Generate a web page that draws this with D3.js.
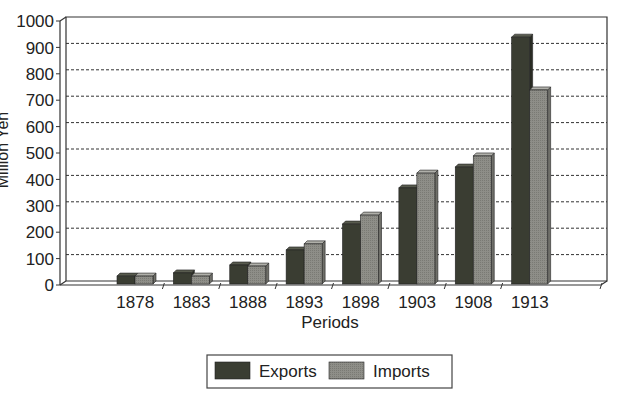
<!DOCTYPE html>
<html>
<head>
<meta charset="utf-8">
<script src="https://cdn.jsdelivr.net/npm/d3@7"></script>
<style>
  body { margin: 0; background: #fff; }
  svg text { font-family: "Liberation Sans", Arial, sans-serif; fill: #222; }
</style>
</head>
<body>
<div id="chart"></div>
<script>
// Data (million yen)
const periods = ["1878", "1883", "1888", "1893", "1898", "1903", "1908", "1913"];
const exportsVals = [30, 42, 72, 129, 227, 364, 443, 935];
const importsVals = [30, 30, 68, 152, 261, 420, 485, 735];
const seriesNames = ["Exports", "Imports"];
const yTicks = [0, 100, 200, 300, 400, 500, 600, 700, 800, 900, 1000];

const W = 640, H = 397;
const depthX = 6, depthY = 4;   // offset of the back wall
const barDepth = 3;

const svg = d3.select("#chart").append("svg")
    .attr("width", W)
    .attr("height", H);

// texture for the imports bars
const defs = svg.append("defs");
const pat = defs.append("pattern")
    .attr("id", "dots")
    .attr("width", 2).attr("height", 2)
    .attr("patternUnits", "userSpaceOnUse");
pat.append("rect").attr("width", 2).attr("height", 2).attr("fill", "#8e8e88");
pat.append("rect").attr("width", 1).attr("height", 1).attr("fill", "#7a7a74");

// back wall scale (gridlines)
const y = d3.scaleLinear().domain([0, 1000]).range([281, 17]);
const x = d3.scaleBand().domain(periods).range([107, 558]);
const xSub = d3.scaleBand().domain(seriesNames).range([10, 46]);

const left = 60, right = 601;
const front0 = y(0) + depthY;

// back wall and gridlines
svg.selectAll(".grid")
    .data(yTicks.filter(d => d > 0 && d < 1000))
    .join("line")
    .attr("x1", left + depthX).attr("x2", right + depthX)
    .attr("y1", d => y(d)).attr("y2", d => y(d))
    .attr("stroke", "#333")
    .attr("stroke-width", 1)
    .attr("stroke-dasharray", "3,2");

const wall = svg.append("g").attr("fill", "none").attr("stroke", "#333").attr("stroke-width", 1.2);
wall.append("path")
    .attr("d", `M${left + depthX},${y(0)}V${y(1000)}H${right + depthX}V${y(0)}H${left + depthX}`);
// floor front edge and side joints
wall.append("path")
    .attr("d", `M${left},${front0}H${right}L${right + depthX},${y(0)}`);
wall.append("path")
    .attr("d", `M${left},${front0}L${left + depthX},${y(0)}`);
wall.append("path")
    .attr("d", `M${left},${y(1000) + depthY}L${left + depthX},${y(1000)}`);

// front y axis
const yAxis = svg.append("g");
yAxis.append("line")
    .attr("x1", left).attr("x2", left)
    .attr("y1", y(1000) + depthY).attr("y2", front0)
    .attr("stroke", "#333").attr("stroke-width", 1.2);
yAxis.selectAll(".tick")
    .data(yTicks)
    .join("line")
    .attr("x1", left - 4).attr("x2", left)
    .attr("y1", d => y(d) + depthY).attr("y2", d => y(d) + depthY)
    .attr("stroke", "#333");
yAxis.selectAll("text")
    .data(yTicks)
    .join("text")
    .attr("x", left - 6)
    .attr("y", d => y(d) + depthY)
    .attr("dy", "0.36em")
    .attr("text-anchor", "end")
    .style("font-size", "17px")
    .text(d => d);

// slanted ticks on the floor edge between periods
const sepX = periods.slice(1).map(p => x(p)).concat([right]);
svg.selectAll(".xtick")
    .data(sepX)
    .join("line")
    .attr("x1", d => d + 1).attr("y1", front0 - 2)
    .attr("x2", d => d - 1).attr("y2", front0 + 4)
    .attr("stroke", "#333");

// 3D bars
const colors = {
    Exports: { front: "#3a3d32", top: "#585b4e", side: "#2a2c24" },
    Imports: { front: "url(#dots)", top: "#b0b0aa", side: "#6f6f69" }
};
const barData = [];
periods.forEach((p, i) => {
    barData.push({ period: p, series: "Exports", value: exportsVals[i] });
    barData.push({ period: p, series: "Imports", value: importsVals[i] });
});
const bw = xSub.bandwidth();
const bars = svg.append("g").selectAll("g")
    .data(barData)
    .join("g")
    .attr("stroke", "#222")
    .attr("stroke-width", 0.6);
bars.each(function (d) {
    const g = d3.select(this);
    const x0 = x(d.period) + xSub(d.series);
    const yt = y(d.value) + barDepth;
    const yb = y(0) + barDepth;
    const c = colors[d.series];
    g.append("path")
        .attr("d", `M${x0 + bw},${yt}L${x0 + bw + barDepth},${yt - barDepth}V${yb - barDepth}L${x0 + bw},${yb}Z`)
        .attr("fill", c.side);
    g.append("path")
        .attr("d", `M${x0},${yt}L${x0 + barDepth},${yt - barDepth}H${x0 + bw + barDepth}L${x0 + bw},${yt}Z`)
        .attr("fill", c.top);
    g.append("rect")
        .attr("x", x0).attr("y", yt)
        .attr("width", bw).attr("height", yb - yt)
        .attr("fill", c.front);
});

// category labels
svg.selectAll(".xlab")
    .data(periods)
    .join("text")
    .attr("x", d => x(d) + x.bandwidth() / 2)
    .attr("y", 308)
    .attr("text-anchor", "middle")
    .style("font-size", "17px")
    .text(d => d);

svg.append("text")
    .attr("x", 330).attr("y", 328)
    .attr("text-anchor", "middle")
    .style("font-size", "17px")
    .text("Periods");

svg.append("text")
    .attr("transform", "translate(8,150) rotate(-90)")
    .attr("text-anchor", "middle")
    .style("font-size", "16px")
    .text("Million Yen");

// legend
const legend = svg.append("g");
legend.append("rect")
    .attr("x", 207).attr("y", 355)
    .attr("width", 245).attr("height", 33)
    .attr("fill", "#fff").attr("stroke", "#444").attr("stroke-width", 1.2);
const legX = [215, 329];
seriesNames.forEach((s, i) => {
    legend.append("rect")
        .attr("x", legX[i]).attr("y", 362)
        .attr("width", 35).attr("height", 17)
        .attr("fill", colors[s].front)
        .attr("stroke", "#222").attr("stroke-width", 0.6);
    legend.append("text")
        .attr("x", legX[i] + 44).attr("y", 371)
        .attr("dy", "0.36em")
        .style("font-size", "17px")
        .text(s);
});
</script>
</body>
</html>
